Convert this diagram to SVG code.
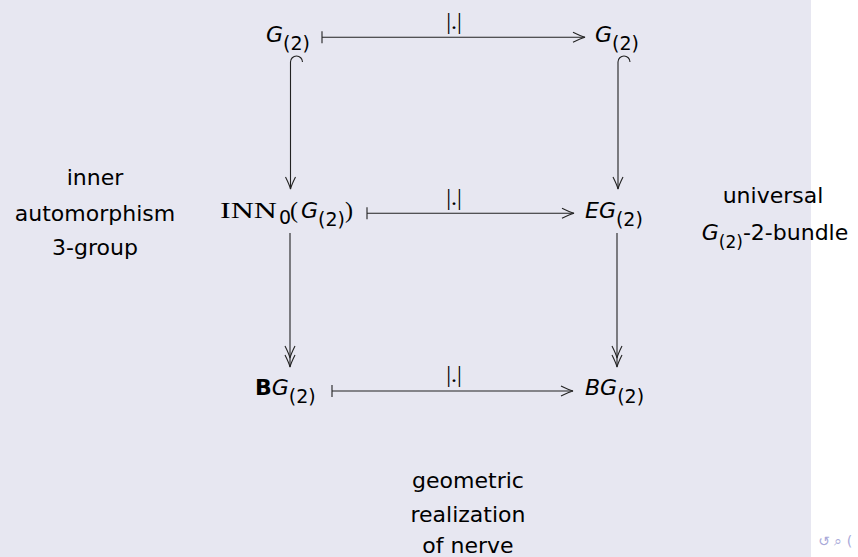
<svg xmlns="http://www.w3.org/2000/svg" xmlns:xlink="http://www.w3.org/1999/xlink" width="858" height="557" viewBox="0 0 858 557">
<style>
.lbl{font-family:"DejaVu Sans",sans-serif;font-size:22px;fill:#000;text-anchor:middle}
.mi{font-family:"DejaVu Sans",sans-serif;font-style:italic;font-size:22px;fill:#000}
.sub{font-family:"DejaVu Sans",sans-serif;font-size:19px;font-style:normal}
.rm{font-family:"Liberation Serif",serif;font-size:24px;fill:#000;font-style:normal}
.bf{font-family:"DejaVu Sans",sans-serif;font-weight:bold;font-style:normal}
.ln{fill:none;stroke:#222;stroke-width:1.1}
.nav{font-family:"DejaVu Sans",sans-serif;font-size:14px;fill:#a9a9d9}
</style>
<defs>
<path id="hd" d="M-12,-5 Q-4,-1 0,0 Q-4,1 -12,5" fill="none" stroke="#222" stroke-width="1.1"/>
</defs>
<rect x="0" y="0" width="858" height="557" fill="#ffffff"/>
<rect x="0" y="0" width="811" height="557" fill="#e7e7f1"/>

<g id="connectors">
  <path class="ln" d="M322,31.3 V43.3 M322,37.3 H585"/>
  <use xlink:href="#hd" transform="translate(585,37.3)"/>
  <path class="ln" d="M367,207.3 V219.3 M367,213.3 H574"/>
  <use xlink:href="#hd" transform="translate(574,213.3)"/>
  <path class="ln" d="M332,385 V397 M332,391 H573"/>
  <use xlink:href="#hd" transform="translate(573,391)"/>
  <path class="ln" d="M302.5,62 A6,6 0 0 0 290.5,62 V189"/>
  <use xlink:href="#hd" transform="translate(290.5,189) rotate(90)"/>
  <path class="ln" d="M630,62 A6,6 0 0 0 618,62 V189"/>
  <use xlink:href="#hd" transform="translate(618,189) rotate(90)"/>
  <path class="ln" d="M290,233 V367"/>
  <use xlink:href="#hd" transform="translate(290,358) rotate(90)"/>
  <use xlink:href="#hd" transform="translate(290,367) rotate(90)"/>
  <path class="ln" d="M617,233 V367"/>
  <use xlink:href="#hd" transform="translate(617,358) rotate(90)"/>
  <use xlink:href="#hd" transform="translate(617,367) rotate(90)"/>
  <text class="rm" x="454" y="29" text-anchor="middle" font-size="20">|.|</text>
  <text class="rm" x="454" y="205" text-anchor="middle" font-size="20">|.|</text>
  <text class="rm" x="454" y="382" text-anchor="middle" font-size="20">|.|</text>
</g>

<g id="g2-top-left"><text class="mi" x="266" y="42">G<tspan class="sub" dy="8">(2)</tspan></text></g>
<g id="g2-top-right"><text class="mi" x="595" y="42">G<tspan class="sub" dy="8">(2)</tspan></text></g>
<g id="inn0"><text class="rm" x="220" y="218"><tspan textLength="57" lengthAdjust="spacingAndGlyphs">INN</tspan><tspan class="sub" x="279" dy="6">0</tspan><tspan x="290" dy="-6">(</tspan><tspan class="mi" x="301">G</tspan><tspan class="sub" dy="8">(2)</tspan><tspan dy="-8">)</tspan></text></g>
<g id="eg2"><text class="mi" x="585" y="218">EG<tspan class="sub" dy="8">(2)</tspan></text></g>
<g id="bg2-left"><text class="mi" x="255" y="395"><tspan class="bf">B</tspan>G<tspan class="sub" dy="8">(2)</tspan></text></g>
<g id="bg2-right"><text class="mi" x="585" y="395">BG<tspan class="sub" dy="8">(2)</tspan></text></g>

<g id="label-inner">
  <text class="lbl" x="95" y="185">inner</text>
  <text class="lbl" x="95" y="221">automorphism</text>
  <text class="lbl" x="95" y="255">3-group</text>
</g>
<g id="label-universal">
  <text class="lbl" x="773" y="203">universal</text>
  <text class="lbl" x="775" y="240"><tspan font-style="italic">G</tspan><tspan font-size="17" dy="8">(2)</tspan><tspan dy="-8">-2-bundle</tspan></text>
</g>
<g id="label-geometric">
  <text class="lbl" x="468" y="488">geometric</text>
  <text class="lbl" x="468" y="522">realization</text>
  <text class="lbl" x="468" y="553">of nerve</text>
</g>
<g id="nav"><text class="nav" x="818" y="546">↺ ⌕ (</text></g>
</svg>
